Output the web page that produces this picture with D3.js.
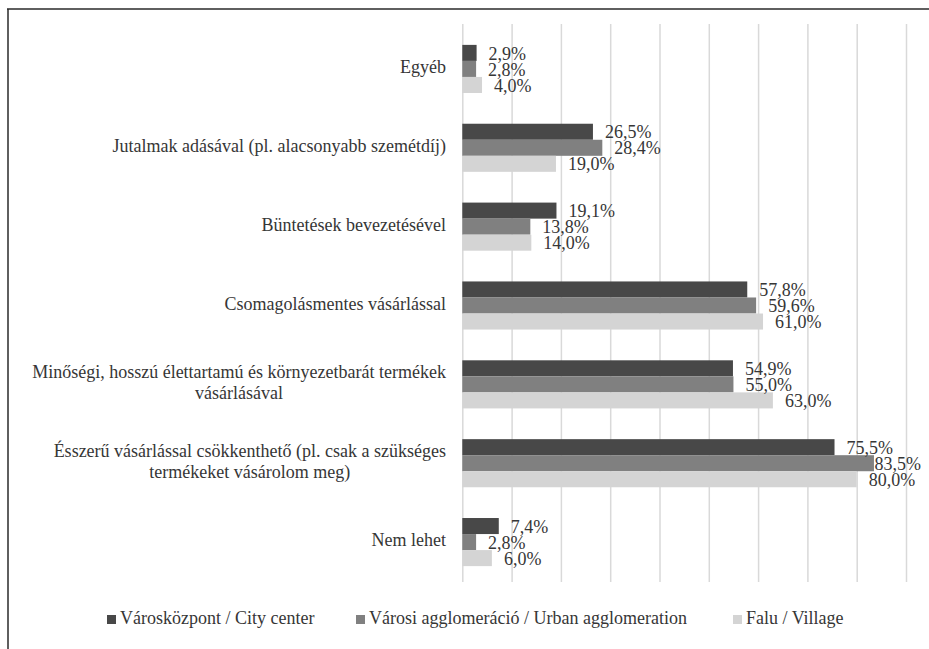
<!DOCTYPE html>
<html>
<head>
<meta charset="utf-8">
<script src="https://cdnjs.cloudflare.com/ajax/libs/d3/7.8.5/d3.min.js"></script>
<style>
  html, body { margin: 0; padding: 0; background: #fff; }
  svg { display: block; }
</style>
</head>
<body>
<svg id="chart" width="929" height="649"></svg>
<script>
// Category labels (each entry is a list of lines), top to bottom
const categories = [
  ["Egyéb"],
  ["Jutalmak adásával (pl. alacsonyabb szemétdíj)"],
  ["Büntetések bevezetésével"],
  ["Csomagolásmentes vásárlással"],
  ["Minőségi, hosszú élettartamú és környezetbarát termékek", "vásárlásával"],
  ["Ésszerű vásárlással csökkenthető (pl. csak a szükséges", "termékeket vásárolom meg)"],
  ["Nem lehet"]
];
const seriesNames = [
  "Városközpont / City center",
  "Városi agglomeráció / Urban agglomeration",
  "Falu / Village"
];
const cityCenter = [2.9, 26.5, 19.1, 57.8, 54.9, 75.5, 7.4];
const urbanAgglomeration = [2.8, 28.4, 13.8, 59.6, 55.0, 83.5, 2.8];
const village = [4.0, 19.0, 14.0, 61.0, 63.0, 80.0, 6.0];
const gridTicks = [0, 10, 20, 30, 40, 50, 60, 70, 80, 90];

const seriesValues = [cityCenter, urbanAgglomeration, village];
const colors = ["#484848", "#808080", "#d4d4d4"];
const textColor = "#363636";
const fontFamily = '"Liberation Serif", "Times New Roman", Tinos, serif';
const fontSize = "18px";

const svg = d3.select("#chart");

// frame lines (top and left)
svg.append("line").attr("x1", 7).attr("x2", 929).attr("y1", 9).attr("y2", 9)
  .attr("stroke", "#2a2a2a").attr("stroke-width", 1.5);
svg.append("line").attr("x1", 8).attr("x2", 8).attr("y1", 9).attr("y2", 649)
  .attr("stroke", "#2a2a2a").attr("stroke-width", 1.5);

const x = d3.scaleLinear().domain([0, 90]).range([462.3, 906]);
const catIdx = categories.map((d, i) => i);
const y = d3.scaleBand().domain(catIdx).range([29.5, 581.5])
  .paddingInner(0.39).paddingOuter(0.195);
const ySub = d3.scaleBand().domain([0, 1, 2]).range([0, y.bandwidth()]);

// vertical gridlines
const gridTop = 24, gridBottom = 582;
svg.append("g")
  .attr("transform", `translate(0,${gridBottom})`)
  .call(d3.axisBottom(x).tickValues(gridTicks).tickSize(-(gridBottom - gridTop)).tickFormat(""))
  .call(g => g.select(".domain").remove())
  .call(g => g.selectAll(".tick line").attr("stroke", "#d9d9d9").attr("stroke-width", 1.5));

// bars
const rows = [];
seriesValues.forEach((vals, s) => vals.forEach((v, c) => rows.push({ s, c, v })));

svg.append("g").selectAll("rect").data(rows).join("rect")
  .attr("x", x(0))
  .attr("y", d => y(d.c) + ySub(d.s))
  .attr("width", d => x(d.v) - x(0))
  .attr("height", ySub.bandwidth())
  .attr("fill", d => colors[d.s]);

// value labels (kept inside the chart area on the right)
const fmt = v => v.toFixed(1).replace(".", ",") + "%";
const labelMaxRight = 921;
svg.append("g").selectAll("text").data(rows).join("text")
  .attr("y", d => y(d.c) + ySub(d.s) + ySub.bandwidth() / 2 + 2.5)
  .attr("dominant-baseline", "middle")
  .attr("fill", textColor)
  .style("font-family", fontFamily)
  .style("font-size", fontSize)
  .text(d => fmt(d.v))
  .attr("x", function(d) {
    const w = this.getComputedTextLength();
    return Math.min(x(d.v) + 12, labelMaxRight - w);
  });

// category labels: block right-aligned, lines centred within the block
const labelRight = 446;
const lineH = 21;
const catG = svg.append("g").selectAll("g").data(catIdx).join("g");
catG.each(function(c) {
  const g = d3.select(this);
  const lines = categories[c];
  const cy = y(c) + y.bandwidth() / 2;
  const texts = g.selectAll("text").data(lines).join("text")
    .style("font-family", fontFamily)
    .style("font-size", fontSize)
    .attr("fill", textColor)
    .attr("dominant-baseline", "middle")
    .attr("text-anchor", "middle")
    .attr("y", (d, i) => cy + (i - (lines.length - 1) / 2) * lineH)
    .text(d => d);
  let maxW = 0;
  texts.each(function() { maxW = Math.max(maxW, this.getComputedTextLength()); });
  texts.attr("x", labelRight - maxW / 2);
});

// legend
const legendX = [107, 356, 733];
const leg = svg.append("g").selectAll("g").data(seriesNames).join("g")
  .attr("transform", (d, i) => `translate(${legendX[i]},615)`);
leg.append("rect").attr("width", 9).attr("height", 9).attr("fill", (d, i) => colors[i]);
leg.append("text").attr("x", 13).attr("y", 5).attr("dominant-baseline", "middle")
  .attr("fill", textColor)
  .style("font-family", fontFamily)
  .style("font-size", fontSize).text(d => d);
</script>
</body>
</html>
